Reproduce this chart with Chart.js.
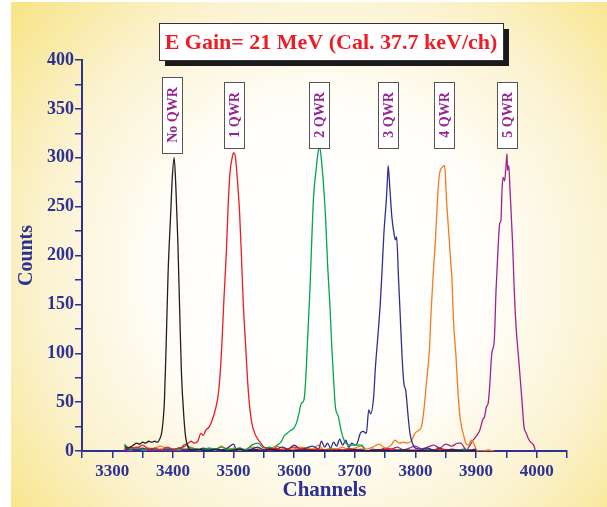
<!DOCTYPE html>
<html>
<head>
<meta charset="utf-8">
<script src="https://cdn.jsdelivr.net/npm/chart.js@4"></script>
<style>
  body { margin: 0; background: #ffffff; }
  canvas { display: block; }
</style>
</head>
<body>
<canvas id="spectra" width="607" height="507"></canvas>
<script>
// E Gain spectra - one series per number of QWRs
const noQwrCh = [3320, 3325, 3330, 3335, 3340, 3345, 3350, 3355, 3360, 3365, 3370, 3374, 3378, 3382, 3386, 3389, 3392, 3396, 3399, 3402, 3405, 3408, 3411, 3414, 3418, 3421, 3425, 3430, 3440, 3450, 3460, 3470, 3480, 3490, 3500, 3510, 3520, 3530, 3540, 3550, 3560, 3570, 3580, 3590, 3600, 3620, 3640, 3660, 3680, 3700, 3720, 3740, 3760, 3780, 3800, 3820, 3840, 3860, 3880, 3900];
const noQwrCounts = [5, 3, 4, 6, 8, 7, 9, 8, 10, 9, 10, 9, 12, 21, 52, 113, 182, 239, 280, 300, 267, 216, 147, 80, 35, 14, 4, 1, 2, 1, 0, 2, 1, 0, 1, 2, 0, 1, 1, 0, 2, 1, 0, 1, 0, 1, 0, 1, 0, 1, 0, 1, 0, 1, 0, 1, 0, 1, 0, 1];

const oneQwrCh = [3320, 3330, 3340, 3350, 3360, 3370, 3380, 3390, 3400, 3410, 3420, 3430, 3435, 3441, 3446, 3450, 3454, 3460, 3465, 3471, 3475, 3478, 3481, 3484, 3488, 3491, 3494, 3498, 3500, 3503, 3506, 3510, 3513, 3516, 3520, 3523, 3526, 3530, 3535, 3539, 3545, 3550, 3560, 3570, 3580, 3590, 3600, 3620, 3640, 3660, 3680, 3700, 3720, 3740, 3760, 3780, 3800, 3820, 3840, 3860, 3880, 3900];
const oneQwrCounts = [2, 4, 3, 6, 2, 3, 1, 4, 2, 3, 5, 10, 8, 10, 18, 16, 21, 25, 32, 45, 59, 80, 113, 154, 202, 250, 284, 301, 305, 301, 280, 243, 199, 151, 107, 73, 49, 29, 18, 13, 8, 4, 2, 3, 1, 2, 4, 1, 2, 0, 1, 2, 0, 1, 2, 0, 1, 0, 2, 1, 0, 1];

const twoQwrCh = [3320, 3330, 3340, 3350, 3360, 3370, 3380, 3390, 3400, 3410, 3420, 3430, 3440, 3450, 3460, 3470, 3480, 3490, 3500, 3510, 3520, 3530, 3540, 3550, 3560, 3566, 3572, 3578, 3583, 3588, 3594, 3599, 3604, 3608, 3612, 3616, 3619, 3622, 3626, 3629, 3632, 3636, 3639, 3642, 3645, 3649, 3652, 3655, 3659, 3662, 3665, 3668, 3673, 3676, 3680, 3685, 3692, 3703, 3712, 3716, 3720, 3740, 3760, 3780, 3800, 3820, 3840, 3860, 3880, 3900];
const twoQwrCounts = [7, 2, 4, 1, 3, 2, 1, 3, 2, 1, 7, 3, 2, 1, 3, 2, 4, 1, 2, 3, 1, 6, 8, 3, 4, 2, 6, 9, 15, 18, 21, 23, 29, 39, 49, 52, 73, 113, 165, 216, 260, 287, 304, 311, 297, 267, 236, 192, 148, 107, 73, 45, 35, 25, 15, 8, 6, 6, 6, 1, 0, 1, 0, 1, 0, 0, 1, 0, 1, 0];

const threeQwrCh = [3320, 3330, 3340, 3350, 3360, 3370, 3380, 3390, 3400, 3410, 3420, 3430, 3440, 3450, 3460, 3470, 3480, 3490, 3500, 3505, 3510, 3520, 3530, 3540, 3550, 3560, 3570, 3580, 3590, 3600, 3610, 3620, 3630, 3640, 3645, 3650, 3655, 3660, 3665, 3670, 3675, 3680, 3685, 3690, 3695, 3700, 3704, 3709, 3714, 3719, 3723, 3726, 3731, 3734, 3738, 3742, 3745, 3748, 3752, 3754, 3755, 3758, 3761, 3765, 3767, 3769, 3772, 3775, 3778, 3781, 3784, 3788, 3791, 3795, 3800, 3810, 3820, 3830, 3840, 3850, 3860, 3870, 3880, 3890, 3900];
const threeQwrCounts = [1, 2, 1, 3, 1, 2, 1, 2, 1, 3, 1, 2, 1, 3, 1, 2, 1, 3, 7, 1, 3, 1, 2, 4, 1, 3, 2, 4, 2, 6, 2, 3, 5, 2, 10, 4, 8, 3, 9, 5, 12, 6, 11, 4, 8, 6, 8, 18, 20, 18, 42, 38, 55, 86, 117, 151, 185, 223, 257, 280, 292, 267, 240, 221, 216, 219, 178, 137, 96, 69, 62, 35, 18, 8, 3, 2, 3, 1, 3, 1, 2, 1, 2, 1, 2];

const fourQwrCh = [3320, 3330, 3340, 3350, 3360, 3370, 3380, 3390, 3400, 3410, 3420, 3430, 3440, 3450, 3460, 3470, 3480, 3490, 3500, 3510, 3520, 3530, 3540, 3550, 3560, 3570, 3580, 3590, 3600, 3610, 3620, 3630, 3640, 3650, 3660, 3670, 3680, 3690, 3700, 3710, 3720, 3730, 3740, 3750, 3760, 3766, 3774, 3780, 3786, 3794, 3799, 3805, 3810, 3814, 3818, 3823, 3826, 3829, 3833, 3836, 3839, 3841, 3845, 3847, 3849, 3851, 3855, 3858, 3860, 3863, 3867, 3870, 3873, 3876, 3880, 3883, 3887, 3892, 3896, 3901, 3910, 3920, 3930];
const fourQwrCounts = [3, 1, 4, 2, 1, 3, 5, 2, 1, 3, 2, 4, 1, 2, 3, 1, 5, 2, 3, 1, 2, 4, 3, 1, 2, 5, 3, 1, 2, 4, 3, 2, 6, 1, 3, 2, 4, 1, 3, 5, 2, 4, 7, 3, 6, 11, 8, 9, 8, 11, 18, 21, 25, 42, 69, 103, 144, 178, 216, 253, 280, 287, 291, 292, 287, 260, 223, 195, 178, 131, 96, 62, 38, 25, 15, 8, 6, 11, 8, 1, 0, 1, 0];

const fiveQwrCh = [3320, 3330, 3340, 3350, 3360, 3370, 3380, 3390, 3400, 3410, 3420, 3430, 3440, 3450, 3460, 3470, 3480, 3490, 3500, 3510, 3520, 3530, 3540, 3550, 3560, 3570, 3580, 3590, 3600, 3610, 3620, 3630, 3640, 3650, 3660, 3670, 3680, 3690, 3700, 3710, 3720, 3730, 3740, 3750, 3760, 3770, 3780, 3790, 3800, 3810, 3820, 3830, 3840, 3850, 3860, 3870, 3875, 3880, 3884, 3890, 3895, 3900, 3906, 3911, 3914, 3917, 3920, 3922, 3926, 3930, 3933, 3937, 3939, 3941, 3943, 3945, 3947, 3950, 3951, 3952, 3954, 3956, 3960, 3963, 3966, 3970, 3973, 3976, 3979, 3983, 3986, 3990, 3995, 3998];
const fiveQwrCounts = [1, 0, 2, 1, 0, 1, 2, 0, 1, 0, 2, 1, 0, 1, 2, 0, 1, 2, 0, 1, 0, 2, 1, 0, 1, 2, 1, 0, 2, 1, 0, 1, 2, 1, 0, 2, 1, 3, 1, 2, 0, 2, 1, 3, 2, 4, 1, 3, 5, 2, 4, 6, 3, 7, 5, 8, 8, 4, 1, 6, 11, 15, 21, 32, 35, 45, 49, 62, 100, 113, 165, 216, 233, 236, 270, 280, 276, 297, 304, 287, 292, 267, 216, 165, 127, 96, 73, 49, 25, 18, 13, 9, 6, 0];

const seriesNames = ["No QWR", "1 QWR", "2 QWR", "3 QWR", "4 QWR", "5 QWR"];
const seriesChannels = [noQwrCh, oneQwrCh, twoQwrCh, threeQwrCh, fourQwrCh, fiveQwrCh];
const seriesCounts = [noQwrCounts, oneQwrCounts, twoQwrCounts, threeQwrCounts, fourQwrCounts, fiveQwrCounts];
const labelChannels = [3398, 3501, 3641, 3754, 3847, 3951]; // where each tag box sits
const chartTitle = "E Gain= 21 MeV (Cal. 37.7 keV/ch)";

const colors = ["#231f20", "#ee1c25", "#00a651", "#2e3192", "#f47c20", "#a3218e"];
const navy = "#2e3192";
const serif = "'Liberation Serif', 'DejaVu Serif', serif";

const datasets = seriesNames.map((name, i) => ({
  label: name,
  data: seriesChannels[i].map((ch, j) => ({ x: ch, y: seriesCounts[i][j] })),
  borderColor: colors[i],
  borderWidth: 1.3,
  pointRadius: 0,
  cubicInterpolationMode: "monotone",
  fill: false,
}));

// yellow radial backdrop
const backdrop = {
  id: "backdrop",
  beforeDraw(chart) {
    const c = chart.ctx;
    c.save();
    const g = c.createRadialGradient(325, 270, 0, 325, 270, 410);
    g.addColorStop(0, "#ffffff");
    g.addColorStop(0.4, "#fffefa");
    g.addColorStop(0.7, "#fbf2cf");
    g.addColorStop(1, "#f8e485");
    c.fillStyle = g;
    c.fillRect(11, 2, 607 - 11, 507 - 2);
    c.restore();
  },
};

// title box and vertical tags
const tags = {
  id: "tags",
  afterDraw(chart) {
    const c = chart.ctx;
    const x = chart.scales.x;
    c.save();
    // title box with drop shadow
    c.fillStyle = "#1a1a1a";
    c.fillRect(165, 29, 344, 37);
    c.fillStyle = "#ffffff";
    c.fillRect(159, 23, 344, 37);
    c.strokeStyle = "#333333";
    c.lineWidth = 1;
    c.strokeRect(159.5, 23.5, 344, 37);
    c.fillStyle = "#ee1c25";
    c.font = "bold 22px " + serif;
    c.textAlign = "center";
    c.textBaseline = "middle";
    c.fillText(chartTitle, 331, 43);

    c.font = "bold 14px " + serif;
    seriesNames.forEach((name, i) => {
      const cx = Math.round(x.getPixelForValue(labelChannels[i]));
      const w = c.measureText(name).width;
      const h = Math.round(w + 20);
      const top = Math.round(115 - h / 2);
      c.fillStyle = "#ffffff";
      c.fillRect(cx - 10, top, 21, h);
      c.strokeStyle = "#555555";
      c.strokeRect(cx - 10 + 0.5, top + 0.5, 20, h);
      c.save();
      c.translate(cx + 1, 115);
      c.rotate(-Math.PI / 2);
      c.fillStyle = "#92278f";
      c.fillText(name, 0, 0);
      c.restore();
    });
    c.restore();
  },
};

new Chart(document.getElementById("spectra"), {
  type: "line",
  data: { datasets: datasets },
  options: {
    responsive: false,
    animation: false,
    layout: { padding: { left: 11, right: 40, top: 60, bottom: 0 } },
    plugins: {
      legend: { display: false },
      tooltip: { enabled: false },
    },
    scales: {
      x: {
        type: "linear",
        min: 3250,
        max: 4050,
        afterFit(scale) { scale.height = 56; },
        border: { color: navy, width: 2 },
        grid: { drawOnChartArea: false, color: navy, lineWidth: 1.5, tickLength: 7 },
        ticks: {
          stepSize: 50,
          autoSkip: false,
          maxRotation: 0,
          padding: 3,
          color: navy,
          font: { family: serif, size: 17, weight: "bold" },
          callback: (v) => (v % 100 === 0 ? v : ""),
        },
        title: {
          display: true,
          text: "Channels",
          color: navy,
          padding: { top: 0, bottom: 4 },
          font: { family: serif, size: 21, weight: "bold" },
        },
      },
      y: {
        min: 0,
        max: 400,
        afterFit(scale) { scale.width = 71; },
        border: { color: navy, width: 2 },
        grid: { drawOnChartArea: false, color: navy, lineWidth: 1.5, tickLength: 7 },
        ticks: {
          stepSize: 25,
          autoSkip: false,
          padding: 1,
          color: navy,
          font: { family: serif, size: 18, weight: "bold" },
          callback: (v) => (v % 50 === 0 ? v : ""),
        },
        title: {
          display: true,
          text: "Counts",
          color: navy,
          padding: 4,
          font: { family: serif, size: 20, weight: "bold" },
        },
      },
    },
  },
  plugins: [backdrop, tags],
});
</script>
</body>
</html>
